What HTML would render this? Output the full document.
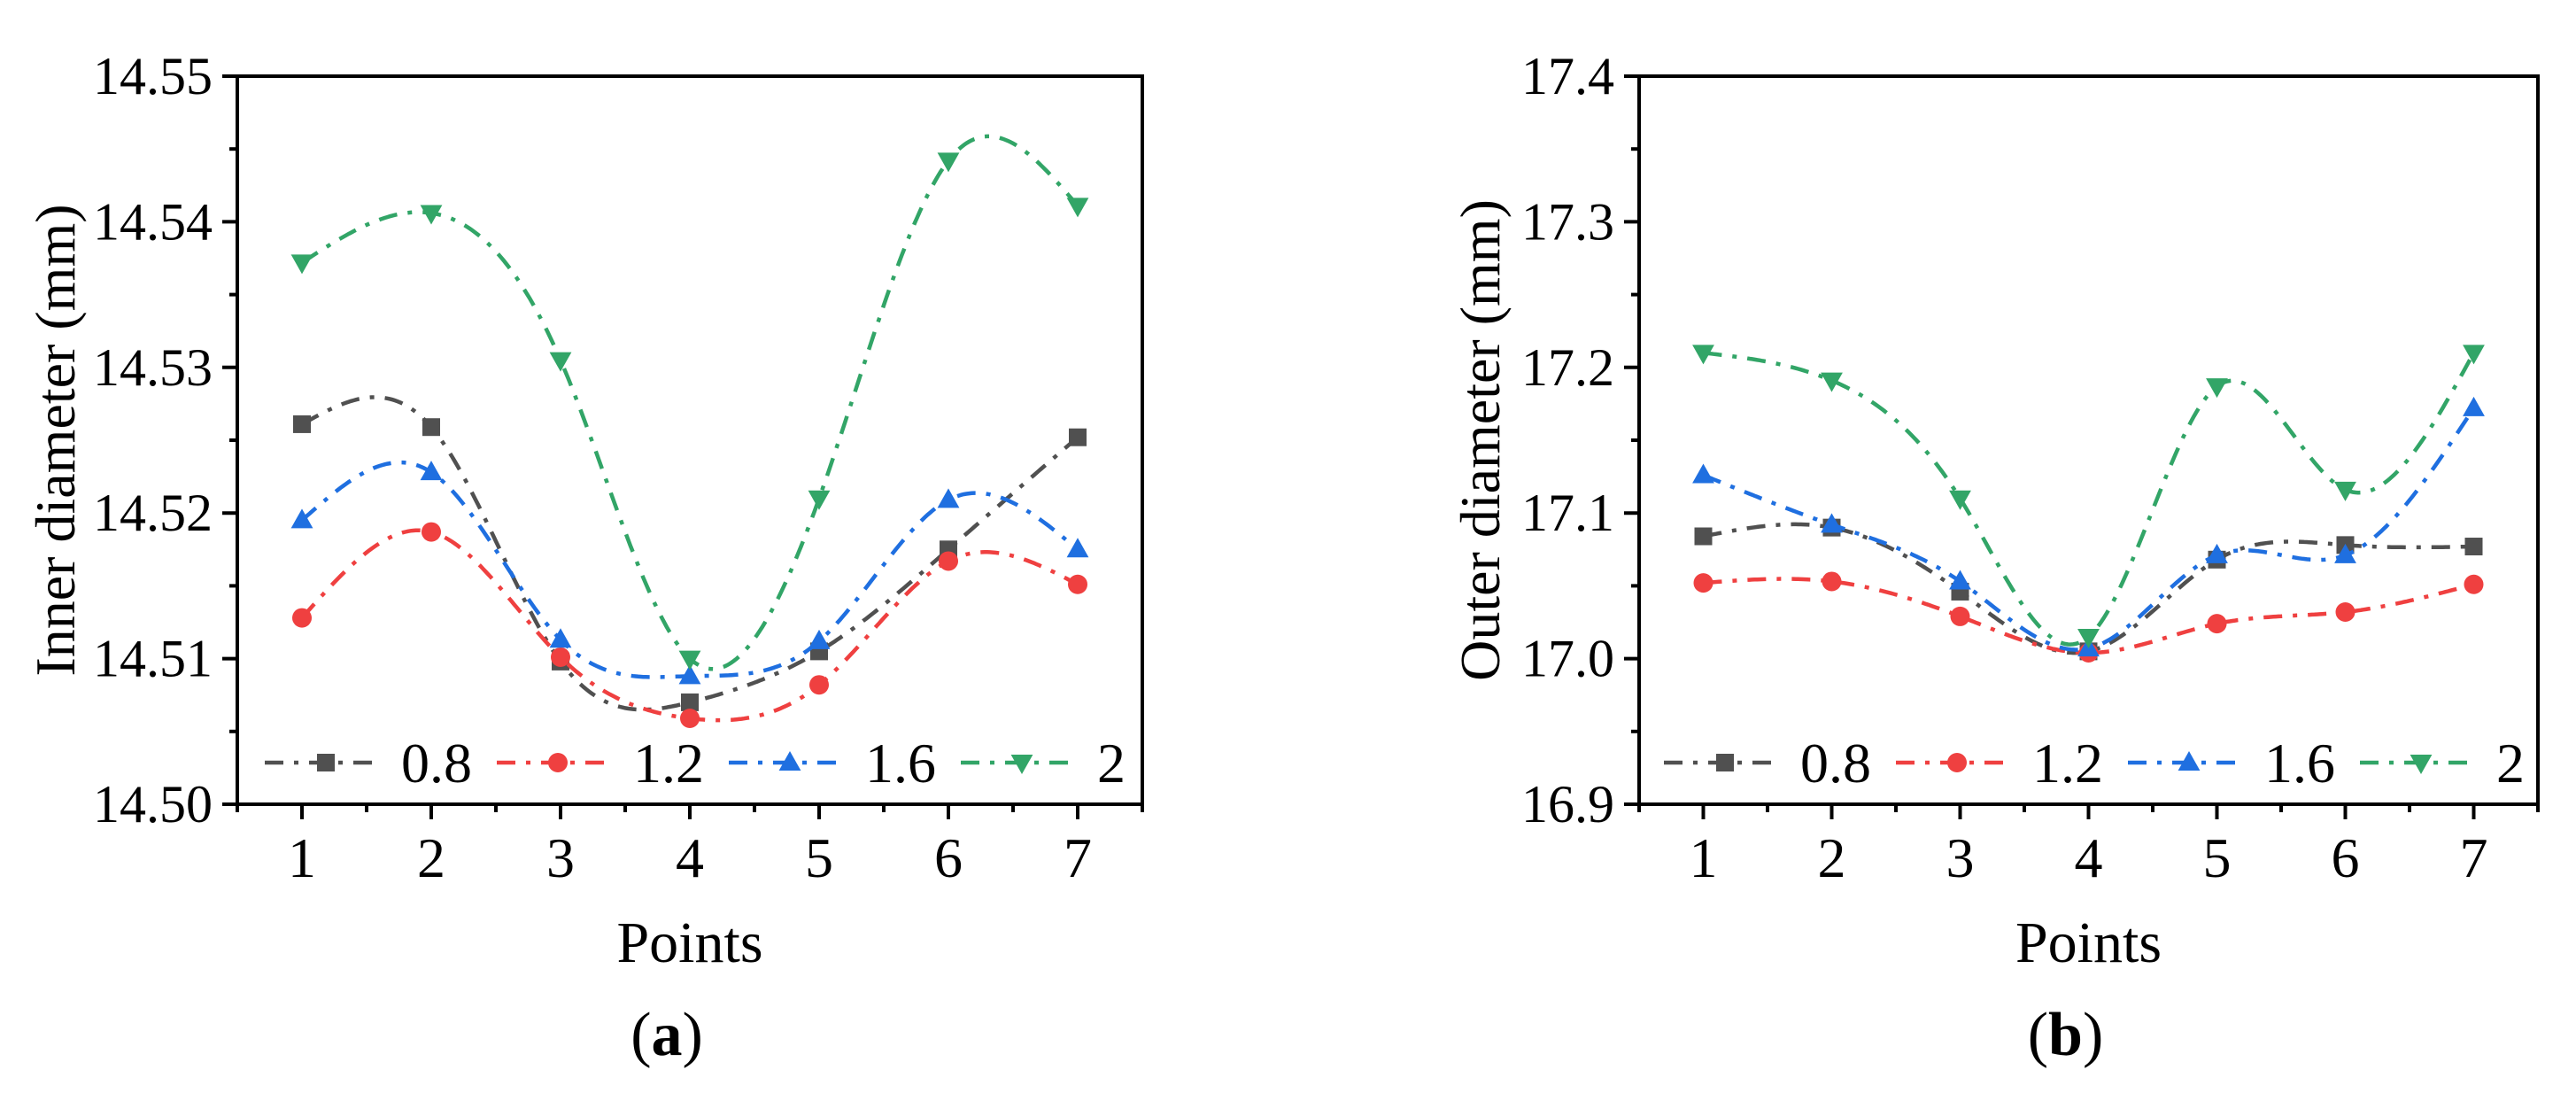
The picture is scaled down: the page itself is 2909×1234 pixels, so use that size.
<!DOCTYPE html>
<html><head><meta charset="utf-8">
<style>
html,body{margin:0;padding:0;background:#fff;font-family:"Liberation Serif",serif;}
svg{display:block;}
svg text{font-family:"Liberation Serif","Times New Roman",serif;}
</style></head>
<body>
<svg id="chart" width="2909" height="1234" viewBox="0 0 2909 1234" xmlns="http://www.w3.org/2000/svg" font-family="Liberation Serif, serif"></svg>
<script>
const categories = [1,2,3,4,5,6,7];
const seriesNames = ["0.8","1.2","1.6","2"];
// Panel (a) inner diameter
const innerS08 = [14.5261,14.5259,14.5098,14.5070,14.5105,14.5175,14.5252];
const innerS12 = [14.5128,14.5187,14.5101,14.5059,14.5082,14.5167,14.5151];
const innerS16 = [14.5195,14.5228,14.5113,14.5088,14.5112,14.5209,14.5175];
const innerS20 = [14.5372,14.5406,14.5305,14.5100,14.5210,14.5442,14.5411];
const innerTicks = ["14.50","14.51","14.52","14.53","14.54","14.55"];
// Panel (b) outer diameter
const outerS08 = [17.084,17.090,17.046,17.005,17.068,17.078,17.077];
const outerS12 = [17.052,17.053,17.029,17.004,17.024,17.032,17.051];
const outerS16 = [17.126,17.092,17.053,17.007,17.071,17.071,17.172];
const outerS20 = [17.210,17.191,17.110,17.015,17.187,17.116,17.210];
const outerTicks = ["16.9","17.0","17.1","17.2","17.3","17.4"];

const NS="http://www.w3.org/2000/svg";
const FONT="Liberation Serif, serif";
const svg=document.getElementById('chart');
const colors=["#505050","#ef4040","#1f6fe0","#32a567"];
const markers=["square","circle","up","down"];
function mk(tag,attrs,parent){const e=document.createElementNS(NS,tag);if(tag==='text')e.setAttribute('font-family',FONT);for(const k in attrs)e.setAttribute(k,attrs[k]);(parent||svg).appendChild(e);return e;}

function spline(xs,ys){
  const n=xs.length,h=[],al=[],l=[1],mu=[0],z=[0],c=new Array(n).fill(0),b=[],d=[];
  for(let i=0;i<n-1;i++)h[i]=xs[i+1]-xs[i];
  for(let i=1;i<n-1;i++)al[i]=3/h[i]*(ys[i+1]-ys[i])-3/h[i-1]*(ys[i]-ys[i-1]);
  for(let i=1;i<n-1;i++){l[i]=2*(xs[i+1]-xs[i-1])-h[i-1]*mu[i-1];mu[i]=h[i]/l[i];z[i]=(al[i]-h[i-1]*z[i-1])/l[i];}
  l[n-1]=1;z[n-1]=0;c[n-1]=0;
  for(let j=n-2;j>=0;j--){c[j]=z[j]-mu[j]*c[j+1];b[j]=(ys[j+1]-ys[j])/h[j]-h[j]*(c[j+1]+2*c[j])/3;d[j]=(c[j+1]-c[j])/(3*h[j]);}
  return t=>{let j=Math.min(n-2,Math.max(0,Math.floor(t-xs[0])));const dx=t-xs[j];return ys[j]+b[j]*dx+c[j]*dx*dx+d[j]*dx*dx*dx;};
}

function marker(g,type,x,y,col,s){
  if(type==="square")return mk('rect',{x:x-s/2,y:y-s/2,width:s,height:s,fill:col},g);
  if(type==="circle")return mk('circle',{cx:x,cy:y,r:s*0.55,fill:col},g);
  if(type==="up")return mk('polygon',{points:`${x},${y-s*0.65} ${x-s*0.62},${y+s*0.45} ${x+s*0.62},${y+s*0.45}`,fill:col},g);
  return mk('polygon',{points:`${x},${y+s*0.65} ${x-s*0.62},${y-s*0.45} ${x+s*0.62},${y-s*0.45}`,fill:col},g);
}

function panel(opt){
  const {L,R,T,B,ymin,ymax,ticks,series,ylabel,tag,legX,name}=opt;
  const g=mk('g',{});
  
  
  const xS=v=>L+(v-0.5)/7*(R-L);
  const yS=v=>B-(v-ymin)/(ymax-ymin)*(B-T);
  series.forEach((ys,si)=>{
    const f=spline(categories,ys);
    let d="";
    for(let t=categories[0];t<=categories[categories.length-1]+1e-9;t+=0.02){d+=(d?"L":"M")+xS(t).toFixed(1)+","+yS(f(t)).toFixed(1);}
    const p=mk('path',{d,fill:"none",stroke:colors[si],"stroke-width":4.5,"stroke-dasharray":"21 12 5 12"},g);
    
    
    ys.forEach((v,i)=>{
      const m=marker(g,markers[si],xS(categories[i]),yS(v),colors[si],20);
      
      
    });
  });
  const fr=mk('rect',{x:L,y:T,width:R-L,height:B-T,fill:"none",stroke:"#000","stroke-width":4},g);
  
  
  for(let v=0.5;v<=7.5;v+=0.5){
    const major=Number.isInteger(v);
    mk('line',{x1:xS(v),x2:xS(v),y1:B,y2:B+(major?17:9),stroke:"#000","stroke-width":4},g);
  }
  categories.forEach(c=>{
    const t=mk('text',{x:xS(c),y:B+82,"font-size":64,"text-anchor":"middle"},g);
    t.textContent=c;
    
    
  });
  const step=(ymax-ymin)/(ticks.length-1);
  for(let i=0;i<ticks.length*2-1;i++){
    const v=ymin+i*step/2;const major=i%2===0;
    mk('line',{x1:L,x2:L-(major?17:9),y1:yS(v),y2:yS(v),stroke:"#000","stroke-width":4},g);
  }
  ticks.forEach((lab,i)=>{
    const t=mk('text',{x:L-28,y:yS(ymin+i*step)+20,"font-size":60,"text-anchor":"end"},g);
    t.textContent=lab;
    
    
  });
  const cx=(L+R)/2;
  const xt=mk('text',{x:cx,y:1086,"font-size":66,"text-anchor":"middle"},g);
  xt.textContent="Points";
  
  
  const yt=mk('text',{x:0,y:0,"font-size":64,"text-anchor":"middle",transform:`translate(${opt.ylabX},${(T+B)/2}) rotate(-90)`},g);
  yt.textContent=ylabel;
  
  
  const pt=mk('text',{x:cx-26,y:1191,"font-size":70,"text-anchor":"middle"},g);
  pt.innerHTML='(<tspan font-weight="bold">'+tag+'</tspan>)';
  
  
  seriesNames.forEach((nm,si)=>{
    const x0=legX+si*262,ly=861;
    const lg=mk('g',{},g);
    
    
    mk('line',{x1:x0,x2:x0+128,y1:ly,y2:ly,stroke:colors[si],"stroke-width":4.5,"stroke-dasharray":"21 12 5 12"},lg);
    marker(lg,markers[si],x0+69,ly,colors[si],20);
    const t=mk('text',{x:x0+154,y:ly+22,"font-size":64},lg);
    t.textContent=nm;
  });
}

panel({name:'panel-a-inner-diameter',L:268,R:1290,T:86,B:908,ymin:14.50,ymax:14.55,ticks:innerTicks,
  series:[innerS08,innerS12,innerS16,innerS20],ylabel:"Inner diameter (mm)",tag:"a",legX:299,ylabX:84});
panel({name:'panel-b-outer-diameter',L:1851,R:2866,T:86,B:908,ymin:16.9,ymax:17.4,ticks:outerTicks,
  series:[outerS08,outerS12,outerS16,outerS20],ylabel:"Outer diameter (mm)",tag:"b",legX:1879,ylabX:1693});
</script>
</body></html>
